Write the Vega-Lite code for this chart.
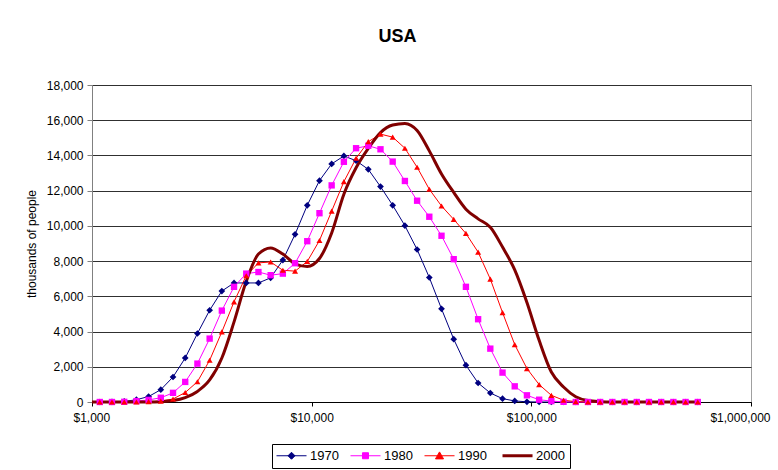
{
  "$schema": "https://vega.github.io/schema/vega-lite/v6.json",
  "autosize": {"type": "none"},
  "padding": {"left": 92, "top": 85, "right": 27, "bottom": 68},
  "width": 659,
  "height": 317,
  "background": "white",
  "title": {
    "text": "USA",
    "fontSize": 18,
    "fontWeight": "bold",
    "color": "black",
    "anchor": "middle",
    "baseline": "alphabetic",
    "offset": 19,
    "dx": -24
  },
  "config": {
    "font": "Liberation Sans",
    "view": {"stroke": "#a0a0a0", "strokeWidth": 1},
    "axis": {
      "labelColor": "black",
      "titleColor": "black",
      "labelFontSize": 12,
      "titleFontSize": 12,
      "titleFontWeight": "normal"
    }
  },
  "data": {
    "values": [
      {"income": 1000, "2000": 0},
      {"income": 1085, "1970": 0, "1980": 0, "1990": 0, "2000": 0},
      {"income": 1233, "1970": 10, "1980": 0, "1990": 0, "2000": 0},
      {"income": 1402, "1970": 30, "1980": 10, "1990": 0, "2000": 0},
      {"income": 1593, "1970": 130, "1980": 50, "1990": 0, "2000": 0},
      {"income": 1810, "1970": 310, "1980": 120, "1990": 20, "2000": 0},
      {"income": 2057, "1970": 700, "1980": 240, "1990": 50, "2000": 20},
      {"income": 2338, "1970": 1420, "1980": 520, "1990": 170, "2000": 80},
      {"income": 2657, "1970": 2500, "1980": 1140, "1990": 540, "2000": 250},
      {"income": 3019, "1970": 3890, "1980": 2180, "1990": 1150, "2000": 600},
      {"income": 3432, "1970": 5210, "1980": 3600, "1990": 2370, "2000": 1250},
      {"income": 3900, "1970": 6300, "1980": 5190, "1990": 3980, "2000": 2500},
      {"income": 4432, "1970": 6760, "1980": 6540, "1990": 5690, "2000": 4550},
      {"income": 5037, "1970": 6760, "1980": 7290, "1990": 7170, "2000": 6850},
      {"income": 5724, "1970": 6760, "1980": 7380, "1990": 7900, "2000": 8400},
      {"income": 6505, "1970": 7050, "1980": 7200, "1990": 7950, "2000": 8750},
      {"income": 7393, "1970": 8060, "1980": 7290, "1990": 7480, "2000": 8400},
      {"income": 8403, "1970": 9520, "1980": 7880, "1990": 7430, "2000": 7850},
      {"income": 9549, "1970": 11170, "1980": 9130, "1990": 7980, "2000": 7700},
      {"income": 10852, "1970": 12570, "1980": 10720, "1990": 9170, "2000": 8150},
      {"income": 12333, "1970": 13520, "1980": 12300, "1990": 10840, "2000": 9600},
      {"income": 14016, "1970": 13970, "1980": 13640, "1990": 12510, "2000": 11800},
      {"income": 15929, "1970": 13700, "1980": 14410, "1990": 13840, "2000": 13300},
      {"income": 18103, "1970": 13210, "1980": 14550, "1990": 14780, "2000": 14400},
      {"income": 20574, "1970": 12230, "1980": 14350, "1990": 15210, "2000": 15300},
      {"income": 23381, "1970": 11170, "1980": 13650, "1990": 15040, "2000": 15730},
      {"income": 26572, "1970": 10010, "1980": 12550, "1990": 14410, "2000": 15820},
      {"income": 30198, "1970": 8660, "1980": 11430, "1990": 13330, "2000": 15420},
      {"income": 34321, "1970": 7070, "1980": 10520, "1990": 12080, "2000": 14260},
      {"income": 39004, "1970": 5290, "1980": 9440, "1990": 11130, "2000": 12950},
      {"income": 44327, "1970": 3570, "1980": 8110, "1990": 10370, "2000": 11900},
      {"income": 50375, "1970": 2090, "1980": 6540, "1990": 9570, "2000": 10950},
      {"income": 57246, "1970": 1080, "1980": 4700, "1990": 8510, "2000": 10400},
      {"income": 65058, "1970": 510, "1980": 3030, "1990": 6980, "2000": 9920},
      {"income": 73936, "1970": 190, "1980": 1670, "1990": 5080, "2000": 8800},
      {"income": 84026, "1970": 60, "1980": 890, "1990": 3260, "2000": 7500},
      {"income": 95492, "1970": 10, "1980": 380, "1990": 1900, "2000": 5650},
      {"income": 108524, "1970": 0, "1980": 130, "1990": 990, "2000": 3500},
      {"income": 123334, "1970": 0, "1980": 50, "1990": 380, "2000": 1700},
      {"income": 140165, "1970": 0, "1980": 10, "1990": 100, "2000": 850},
      {"income": 159292, "1970": 0, "1980": 0, "1990": 20, "2000": 300},
      {"income": 181029, "1970": 0, "1980": 0, "1990": 0, "2000": 80},
      {"income": 205733, "1970": 0, "1980": 0, "1990": 0, "2000": 20},
      {"income": 233807, "1970": 0, "1980": 0, "1990": 0, "2000": 0},
      {"income": 265714, "1970": 0, "1980": 0, "1990": 0, "2000": 0},
      {"income": 301976, "1970": 0, "1980": 0, "1990": 0, "2000": 0},
      {"income": 343209, "1970": 0, "1980": 0, "1990": 0, "2000": 0},
      {"income": 390036, "1970": 0, "1980": 0, "1990": 0, "2000": 0},
      {"income": 443269, "1970": 0, "1980": 0, "1990": 0, "2000": 0},
      {"income": 503750, "1970": 0, "1980": 0, "1990": 0, "2000": 0},
      {"income": 572463, "1970": 0, "1980": 0, "1990": 0, "2000": 0}
    ]
  },
  "transform": [
    {"fold": ["1970", "1980", "1990", "2000"], "as": ["year", "people"]},
    {"filter": "isValid(datum.people)"}
  ],
  "encoding": {
    "x": {
      "field": "income",
      "type": "quantitative",
      "scale": {"type": "log", "domain": [1000, 1000000], "nice": false},
      "axis": {
        "title": null,
        "grid": false,
        "values": [1000, 10000, 100000, 1000000],
        "format": "$,.0f",
        "domainColor": "black",
        "tickColor": "black",
        "tickSize": 4,
        "labelPadding": 6,
        "labelOverlap": false,
        "labelBound": false,
        "labelFlush": true,
        "labelFlushOffset": 19
      }
    },
    "y": {
      "field": "people",
      "type": "quantitative",
      "scale": {"domain": [0, 18000], "nice": false},
      "axis": {
        "title": "thousands of people",
        "values": [0, 2000, 4000, 6000, 8000, 10000, 12000, 14000, 16000, 18000],
        "format": ",.0f",
        "grid": true,
        "gridColor": "#303030",
        "gridOpacity": 1,
        "domainColor": "#808080",
        "tickColor": "#808080",
        "tickSize": 5,
        "labelPadding": 4,
        "titlePadding": 8
      }
    },
    "color": {
      "field": "year",
      "type": "nominal",
      "scale": {
        "domain": ["1970", "1980", "1990", "2000"],
        "range": ["#000080", "#ff00ff", "#ff0000", "#800000"]
      },
      "legend": {
        "title": null,
        "orient": "none",
        "legendX": 180,
        "legendY": 359,
        "direction": "horizontal",
        "strokeColor": "black",
        "fillColor": "white",
        "padding": 5,
        "symbolSize": 196,
        "labelOffset": 20,
        "columnPadding": 9,
        "labelFontSize": 13,
        "labelColor": "black",
        "encode": {
          "symbols": {
            "update": {
              "shape": {"signal": "datum.value == '1970' ? 'M-1,0H3.29M1.143,-0.5L1.643,0L1.143,0.5L0.643,0Z' : datum.value == '1980' ? 'M-1,0H3.29M0.71,-0.43H1.57V0.43H0.71Z' : datum.value == '1990' ? 'M-1,0H3.29M1.143,-0.55L1.72,0.45H0.57Z' : 'M-1,0H3.29'"},
              "fill": {"scale": "color", "field": "value"},
              "stroke": {"scale": "color", "field": "value"},
              "strokeWidth": {"signal": "datum.value == '2000' ? 3 : 1"},
              "opacity": {"value": 1}
            }
          }
        }
      }
    }
  },
  "layer": [
    {
      "transform": [{"filter": "datum.year != '2000'"}],
      "mark": {"type": "line", "strokeWidth": 1, "interpolate": "linear"}
    },
    {
      "transform": [{"filter": "datum.year == '2000'"}],
      "mark": {"type": "line", "strokeWidth": 3, "interpolate": "monotone"}
    },
    {
      "transform": [{"filter": "datum.year != '2000'"}],
      "mark": {"type": "point", "filled": true, "opacity": 1},
      "encoding": {
        "shape": {
          "field": "year",
          "type": "nominal",
          "scale": {"domain": ["1970", "1980", "1990"], "range": ["diamond", "square", "triangle-up"]},
          "legend": null
        },
        "size": {
          "field": "year",
          "type": "ordinal",
          "scale": {"domain": ["1970", "1980", "1990"], "range": [45, 36, 60]},
          "legend": null
        },
        "order": {"field": "year"}
      }
    }
  ]
}
